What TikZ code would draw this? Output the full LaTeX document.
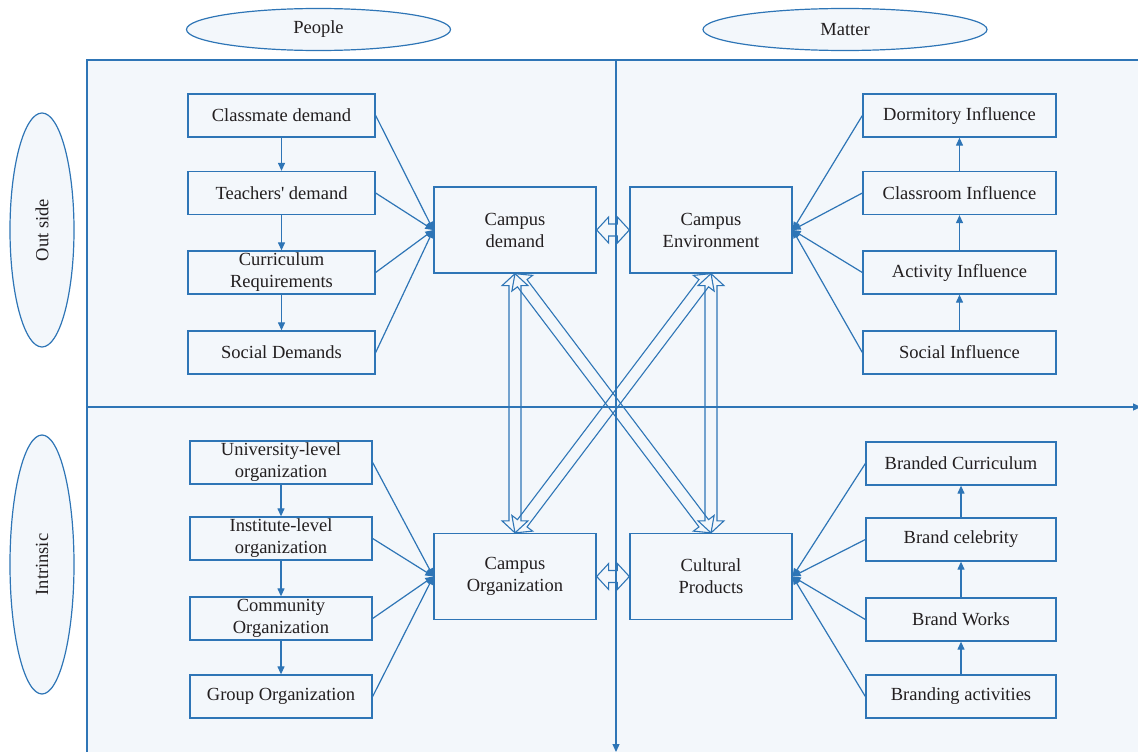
\documentclass[tikz,border=0pt]{standalone}
\usepackage{fontspec}
\setmainfont{Liberation Serif}
\usetikzlibrary{calc,arrows.meta,shapes.geometric}
\definecolor{lblue}{HTML}{2E75B6}
\definecolor{bgfill}{HTML}{F3F7FB}
\definecolor{txt}{HTML}{231F20}
\tikzset{
  basebox/.style={draw=lblue, line width=1.3pt, fill=bgfill, inner sep=0pt, align=center, text=txt, font=\fontsize{18.5}{22}\selectfont},
  lbox/.style={basebox, minimum width=187pt, minimum height=43pt},
  lbbox/.style={basebox, minimum width=182pt, minimum height=43pt},
  rbox/.style={basebox, minimum width=193pt, minimum height=43pt},
  rbbox/.style={basebox, minimum width=190pt, minimum height=43pt},
  cbox/.style={basebox, minimum width=162pt, minimum height=86pt},
  ell/.style={draw=lblue, line width=1.2pt, fill=bgfill, ellipse, inner sep=0pt, text=txt, font=\fontsize{18.5}{22}\selectfont},
  conn/.style={draw=lblue, line width=1.2pt},
  arr/.style={conn, -{Triangle[length=8pt,width=7pt]}},
  blk/.style={draw=lblue, line width=1.1pt, line join=miter},
}
\newcommand\blkarrow[2]{%
  \draw[blk] let \p1=(#1), \p2=(#2), \n1={atan2(\y2-\y1,\x2-\x1)} in
    (\p1) -- ($(\p1)+(\n1:12pt)+(\n1+90:13pt)$) -- ($(\p1)+(\n1:12pt)+(\n1+90:6pt)$)
    -- ($(\p2)+(\n1:-12pt)+(\n1+90:6pt)$) -- ($(\p2)+(\n1:-12pt)+(\n1+90:13pt)$)
    -- (\p2) -- ($(\p2)+(\n1:-12pt)+(\n1-90:13pt)$) -- ($(\p2)+(\n1:-12pt)+(\n1-90:6pt)$)
    -- ($(\p1)+(\n1:12pt)+(\n1-90:6pt)$) -- ($(\p1)+(\n1:12pt)+(\n1-90:13pt)$) -- cycle;}
\begin{document}
\begin{tikzpicture}[x=1pt,y=-1pt]
\useasboundingbox (0,0) rectangle (1138,752);
% background panel
\draw[lblue, line width=1.3pt, fill=bgfill] (87,60) rectangle (1160,780);
% headers
\node[ell, minimum width=264pt, minimum height=42pt] (people) at (318.5,29.5) {People};
\node[ell, minimum width=284pt, minimum height=42pt] (matter) at (845,29.5) {Matter};
\node[ell, minimum width=64pt, minimum height=234pt] (outside) at (42,230) {};
\node[rotate=90, text=txt, font=\fontsize{18.5}{22}\selectfont] at (outside.center) {Out side};
\node[ell, minimum width=64pt, minimum height=259pt] (intrinsic) at (42,564.5) {};
\node[rotate=90, text=txt, font=\fontsize{18.5}{22}\selectfont] at (intrinsic.center) {Intrinsic};
% dividers
\coordinate (vtop) at (616,60);
\coordinate (vbot) at (616,752);
\coordinate (hl) at (87,407);
\coordinate (hr) at (1141,407);
\draw[arr] (vtop) -- (vbot);
\draw[arr] (hl) -- (hr);
% left top
\node[lbox] (a1) at (281.5,115.5) {Classmate demand};
\node[lbox] (a2) at (281.5,193) {Teachers\textquotesingle\ demand};
\node[lbox] (a3) at (281.5,272.5) {Curriculum\\Requirements};
\node[lbox] (a4) at (281.5,352.5) {Social Demands};
% right top
\node[rbox] (b1) at (959.5,115.5) {Dormitory Influence};
\node[rbox] (b2) at (959.5,193) {Classroom Influence};
\node[rbox] (b3) at (959.5,272.5) {Activity Influence};
\node[rbox] (b4) at (959.5,352.5) {Social Influence};
% left bottom
\node[lbbox] (c1) at (281,462.5) {University-level\\organization};
\node[lbbox] (c2) at (281,538.5) {Institute-level\\organization};
\node[lbbox] (c3) at (281,618.5) {Community\\Organization};
\node[lbbox] (c4) at (281,696.5) {Group Organization};
% right bottom
\node[rbbox] (d1) at (961,463.5) {Branded Curriculum};
\node[rbbox] (d2) at (961,539.5) {Brand celebrity};
\node[rbbox] (d3) at (961,619.5) {Brand Works};
\node[rbbox] (d4) at (961,696.5) {Branding activities};
% centre
\node[cbox] (cdem) at (515,230) {Campus\\demand};
\node[cbox] (cenv) at (711,230) {Campus\\Environment};
\node[cbox] (corg) at (515,576.5) {Campus\\Organization};
\node[cbox] (cprod) at (711,576.5) {Cultural\\Products};
% column arrows
\draw[arr] (a1) -- (a2);
\draw[arr] (a2) -- (a3);
\draw[arr] (a3) -- (a4);
\draw[arr] (b4) -- (b3);
\draw[arr] (b3) -- (b2);
\draw[arr] (b2) -- (b1);
\draw[arr] (c1) -- (c2);
\draw[arr] (c2) -- (c3);
\draw[arr] (c3) -- (c4);
\draw[arr] (d4) -- (d3);
\draw[arr] (d3) -- (d2);
\draw[arr] (d2) -- (d1);
% converging arrows
\foreach \n in {a1,a2,a3,a4} \draw[arr] (\n.east) -- (cdem.west);
\foreach \n in {b1,b2,b3,b4} \draw[arr] (\n.west) -- (cenv.east);
\foreach \n in {c1,c2,c3,c4} \draw[arr] (\n.east) -- (corg.west);
\foreach \n in {d1,d2,d3,d4} \draw[arr] (\n.west) -- (cprod.east);
% block arrows
\blkarrow{cdem.east}{cenv.west}
\blkarrow{corg.east}{cprod.west}
\blkarrow{cdem.south}{corg.north}
\blkarrow{cenv.south}{cprod.north}
\blkarrow{cdem.south}{cprod.north}
\blkarrow{cenv.south}{corg.north}
\end{tikzpicture}
\end{document}
